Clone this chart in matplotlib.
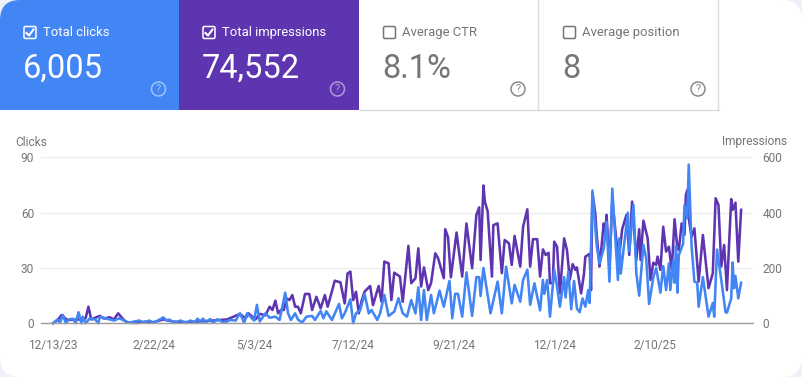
import matplotlib
matplotlib.use("Agg")
import matplotlib.pyplot as plt
from matplotlib.patches import FancyBboxPatch, Rectangle, Circle

plt.rcParams['font.family'] = ['Roboto', 'DejaVu Sans']

W, H = 802, 377
GRAY = '#757575'
BLUE = '#4285f4'
PURPLE = '#5e35b1'

# cards
card_titles = ['Total clicks', 'Total impressions', 'Average CTR', 'Average position']
card_values = ['6,005', '74,552', '8.1%', '8']
card_checked = [True, True, False, False]

# chart values: day since 12/13/23 and value
tick_days = [0, 71, 142, 212, 283, 354, 425]
tick_labels = ['12/13/23', '2/22/24', '5/3/24', '7/12/24', '9/21/24', '12/1/24', '2/10/25']
clicks_ticks = [0, 30, 60, 90]
impr_ticks = [0, 200, 400, 600]

clicks_days = [0, 3, 5, 7, 9, 11, 14, 16, 18, 20, 21, 23, 26, 30, 32, 33, 43, 47, 53, 61, 64, 68, 71, 78, 80, 82,
               86, 90, 94, 97, 100, 102, 104, 106, 108, 111, 113, 116, 121, 125, 129, 132, 135, 137, 142, 144,
               146, 150, 153, 157, 160, 164, 166, 168, 171, 173, 176, 179, 183, 185, 189, 191, 193, 197, 202,
               204, 206, 210, 212, 214, 217, 220, 223, 225, 229, 231, 234, 237, 241, 244, 247, 250, 253, 256,
               258, 260, 262, 264, 267, 269, 273, 276, 280, 282, 284, 286, 289, 292, 296, 299, 301, 302, 304,
               309, 314, 317, 320, 324, 326, 330, 332, 335, 337, 340, 344, 346, 347, 349, 351, 354, 356, 358,
               361, 362, 364, 366, 368, 370, 372, 374, 376, 378, 379, 381, 384, 386, 389, 391, 393, 395, 399,
               400, 401, 406, 407, 410, 412, 414, 417, 419, 421, 424, 426, 429, 431, 433, 435, 436, 438, 439,
               440, 441, 442, 445, 446, 448, 449, 451, 453, 455, 456, 459, 463, 466, 467, 469, 472, 475, 476,
               479, 480, 481, 482, 484, 486]
clicks = [0, 2, 0.5, 4.5, 0, 2, 2.5, 0, 6, 0, 3.6, 0, 2.7, 2, 0, 3.5, 1.5, 2.7, 0.3, 1.5, 0.3, 1.5, 0.2, 3.2, 1.5, 2,
          0.2, 1.5, 0.2, 1.5, 0.2, 2.5, 1, 2.5, 0.3, 2.3, 0.3, 2.2, 0.3, 1.8, 1.5, 5.4, 0.3, 5.4, 1.5, 10,
          1, 5.4, 3, 3.6, 1.8, 16.6, 5.4, 1.8, 5.4, 2, 0.4, 3.6, 4, 1.8, 6.7, 2.7, 6.5, 1.8, 10.5,
          2.7, 5.4, 13, 0, 5.4, 7.2, 16, 5.4, 7.2, 1.8, 5.4, 15.4, 4, 6.3, 13.6, 5.4, 3.6, 12.6, 5.4,
          19.5, 1.8, 18, 1.8, 15.4, 5.4, 17.7, 9, 23, 2.7, 16, 16, 3.6, 27.6, 4, 25, 25, 14.8, 30,
          5.4, 22.6, 5.4, 30.7, 10.8, 20.8, 11.7, 23.5, 29, 10, 21.7, 7, 23.5, 16, 23.5, 3.6, 29, 20, 9,
          25, 14, 28, 7.6, 23, 8, 6, 13.5, 9, 18, 11, 72, 42, 32.5, 40.6, 55, 22.6, 73, 23.5,
          46, 27, 60, 39, 64, 27, 15, 42.5, 35, 10.5, 25, 30, 16.6, 31, 18, 32.5, 18, 34, 22,
          42, 16.6, 37, 43, 64, 57, 86, 42, 22.6, 22, 9, 25, 3.6, 11, 3.6, 40, 23.5, 6, 5.8,
          13.5, 33, 19, 25.7, 13.5, 22]

impr_days = [0, 3, 6, 10, 19, 23, 25, 27, 33, 36, 40, 43, 46, 50, 53, 59, 65, 71, 78, 85, 92, 104, 113, 123, 132,
             136, 138, 143, 146, 150, 153, 155, 157, 159, 161, 163, 165, 167, 169, 171, 173, 175, 178, 181,
             183, 186, 189, 192, 194, 199, 203, 206, 208, 210, 212, 214, 216, 218, 220, 224, 226, 230, 232,
             234, 237, 239, 241, 245, 247, 251, 253, 256, 258, 260, 262, 265, 267, 270, 272, 276, 277, 279,
             281, 285, 289, 292, 296, 299, 301, 302, 304, 305, 307, 310, 311, 314, 317, 319, 322, 324, 326,
             330, 332, 335, 337, 339, 342, 344, 346, 348, 350, 351, 353, 354, 356, 358, 361, 363, 365, 367,
             369, 370, 372, 373, 375, 376, 379, 380, 381, 383, 384, 386, 389, 390, 391, 393, 395, 398, 400,
             402, 405, 407, 409, 412, 414, 415, 417, 420, 422, 424, 426, 427, 429, 431, 433, 435, 437, 439,
             441, 442, 444, 446, 447, 448, 449, 451, 453, 456, 459, 463, 466, 468, 470, 472, 474, 476, 479,
             480, 482, 484, 486]
impressions = [0, 10, 30, 12, 14, 18, 60, 14, 27, 17, 22, 14, 36, 12, 2, 1, 6, 4, 14, 6, 4, 7, 10, 14, 34,
               18, 36, 14, 34, 29, 60, 48, 82, 36, 48, 48, 90, 84, 102, 60, 60, 36, 106, 106,
               48, 96, 54, 102, 60, 154, 148, 72, 180, 187, 84, 114, 36, 82, 114, 135, 66, 135, 78,
               223, 217, 84, 183, 169, 78, 280, 145, 163, 271, 133, 202, 120, 145, 253, 235, 163, 340, 311,
               166, 328, 169, 361, 199, 392, 419, 229, 498, 440, 404, 169, 355, 361, 181, 301, 289, 211, 316,
               205, 349, 412, 205, 304, 304, 169, 267, 247, 255, 145, 145, 295, 277, 108, 307, 265, 157, 214,
               193, 202, 139, 108, 178, 241, 251, 120, 470, 398, 319, 205, 361, 319, 392, 199, 446, 295, 247,
               340, 392, 247, 440, 229, 340, 229, 371, 307, 157, 219, 211, 241, 193, 349, 259, 277, 193, 376,
               271, 265, 361, 320, 464, 482, 380, 313, 343, 151, 319, 127, 181, 452, 428, 205, 283, 120, 449,
               410, 436, 223, 410]

fig = plt.figure(figsize=(W / 100, H / 100), dpi=100, facecolor='#eef1fa')

# page layer in pixel coordinates
bg = fig.add_axes([0, 0, 1, 1])
bg.set_xlim(0, W)
bg.set_ylim(H, 0)
bg.axis('off')
panel = FancyBboxPatch((0, 0), W, H, boxstyle='round,pad=0,rounding_size=20', fc='white', ec='none')
bg.add_patch(panel)


def draw_card(x, title, value, checked):
    idx = card_titles.index(title)
    if idx == 0:
        r = Rectangle((0, 0), 179, 110, fc=BLUE, ec='none')
        bg.add_patch(r)
        r.set_clip_path(panel)
    elif idx == 1:
        bg.add_patch(Rectangle((179, 0), 180, 110, fc=PURPLE, ec='none'))
    else:
        # right border sits a bit left of the card's content grid
        bg.plot([x, x + 179], [109.5, 109.5], color='#dadce0', lw=1)
        bg.plot([x + 178.5, x + 178.5], [0, 110], color='#dadce0', lw=1)
    fg = 'white' if checked else GRAY
    bg.add_patch(FancyBboxPatch((x + 24, 26.5), 12, 12, boxstyle='round,pad=0,rounding_size=1.5',
                                fc='none', ec=fg, lw=1.1))
    if checked:
        bg.plot([x + 26.5, x + 29, x + 33.5], [33, 35.5, 29.5], color='white', lw=1.5)
    bg.text(x + 43, 32.5, title, color=fg, fontsize=9.4, va='center', ha='left')
    bg.text(x + 23, 69, value, color=fg, fontsize=23.5, va='center', ha='left')
    q_col = '#ffffff' if checked else GRAY
    bg.add_patch(Circle((x + 158.5, 89), 7, fc='none', ec=q_col, lw=1.1, alpha=0.5 if checked else 0.85))
    bg.text(x + 158.5, 89, '?', color=q_col, fontsize=8, va='center', ha='center',
            alpha=0.5 if checked else 0.85)


card_x = [0, 179, 359.5, 539.5]
for i in range(4):
    draw_card(card_x[i], card_titles[i], card_values[i], card_checked[i])

bg.text(15, 142, 'Clicks', color=GRAY, fontsize=8.6, va='center', ha='left')
bg.text(787, 142, 'Impressions', color=GRAY, fontsize=8.6, va='center', ha='right')

# chart
left, right, top, bottom = 41, 753, 157.3, 323.3
ax = fig.add_axes([left / W, 1 - bottom / H, (right - left) / W, (bottom - top) / H])
ax.patch.set_alpha(0)
ax2 = ax.twinx()

ax2.plot(impr_days, impressions, color=PURPLE, lw=1.85, solid_joinstyle='round', clip_on=False)
ax.set_zorder(ax2.get_zorder() + 1)
ax.plot(clicks_days, clicks, color=BLUE, lw=1.85, solid_joinstyle='round', clip_on=False)

ax.set_xlim(-8.5, 494.4)
ax.set_ylim(0, 90)
ax2.set_ylim(0, 600)
ax.set_xticks(tick_days)
ax.set_xticklabels(tick_labels)
ax.set_yticks(clicks_ticks)
ax2.set_yticks(impr_ticks)
ax2.grid(axis='y', color='#eeeeee', lw=1)
ax2.set_axisbelow(True)
ax.tick_params(axis='x', length=0, pad=11, labelsize=8.6, labelcolor=GRAY)
ax.tick_params(axis='y', length=0, pad=5, labelsize=8.6, labelcolor=GRAY)
ax2.tick_params(axis='y', length=0, pad=7, labelsize=8.6, labelcolor=GRAY)
for s in ('top', 'left', 'right'):
    ax.spines[s].set_visible(False)
    ax2.spines[s].set_visible(False)
ax2.spines['bottom'].set_visible(False)
ax.spines['bottom'].set_color('#9e9e9e')
ax.spines['bottom'].set_linewidth(1)

fig.savefig('out.png', dpi=100, facecolor=fig.get_facecolor())
